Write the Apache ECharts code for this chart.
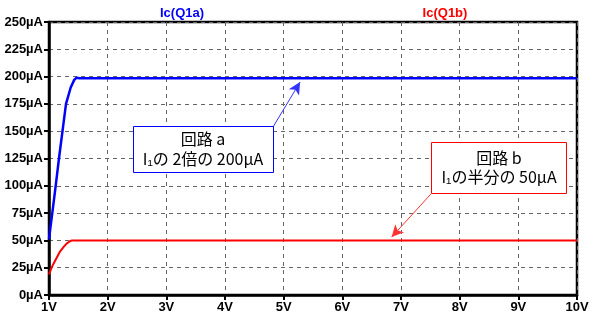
<!DOCTYPE html>
<html><head><meta charset="utf-8">
<script src="https://cdn.jsdelivr.net/npm/echarts@6/dist/echarts.min.js"></script>
<style>html,body{margin:0;padding:0;background:#fff}#c{width:595px;height:324px}</style>
</head><body><div id="c"></div>
<script>
// Data
const voltsA = [1, 1.02, 1.056, 1.114, 1.17, 1.23, 1.29, 1.37, 1.43, 1.47, 1.52, 10];
const currentA = [51, 60, 75, 100, 125, 150, 175, 190, 197, 199, 198.5, 198.5];
const voltsB = [1, 1.03, 1.07, 1.12, 1.19, 1.25, 1.30, 1.35, 1.39, 10];
const currentB = [19, 23, 28, 33, 40, 44, 47, 49, 50, 50];
const seriesNames = ['Ic(Q1a)', 'Ic(Q1b)'];
const noteA = ['回路 a', 'I₁の 2倍の 200µA'];
const noteB = ['回路 b', 'I₁の半分の 50µA'];
// arrow endpoints in data units [V, µA]
const arrowA = [[4.82, 154], [5.28, 195]];
const arrowB = [[7.51, 92.5], [6.84, 53]];

const chart = echarts.init(document.getElementById('c'));
const lbl = {color: '#000', fontWeight: 'bold', fontSize: 13, fontFamily: 'Liberation Sans, Arial, sans-serif'};
const pairs = (xs, ys) => xs.map((x, i) => [x, ys[i]]);
const boxText = {fontFamily: 'Noto Sans CJK JP, sans-serif', fontSize: 16, fill: '#000', align: 'center', verticalAlign: 'top'};
const titleText = {fontFamily: 'Liberation Sans, Arial, sans-serif', fontSize: 13, fontWeight: 'bold', align: 'center', verticalAlign: 'middle'};
chart.setOption({
  animation: false,
  grid: {left: 49, top: 22, width: 528, height: 273, show: true, borderColor: '#000', borderWidth: 2.5, backgroundColor: 'transparent'},
  xAxis: {
    type: 'value', min: 1, max: 10, interval: 1,
    axisLine: {show: true, lineStyle: {color: '#000', width: 2.5}},
    axisTick: {show: true, length: 5, lineStyle: {color: '#000', width: 2}},
    axisLabel: Object.assign({formatter: v => v + 'V', margin: 6, showMaxLabel: true, showMinLabel: true}, lbl),
    splitLine: {show: true, lineStyle: {color: '#666', type: [4, 4], width: 1}}
  },
  yAxis: {
    type: 'value', min: 0, max: 250, interval: 25,
    axisLine: {show: true, lineStyle: {color: '#000', width: 2.5}},
    axisTick: {show: true, length: 5, lineStyle: {color: '#000', width: 2}},
    axisLabel: Object.assign({formatter: v => v + 'µA', margin: 6}, lbl),
    splitLine: {show: true, lineStyle: {color: '#666', type: [4, 4], width: 1}}
  },
  series: [
    {name: seriesNames[0], type: 'line', data: pairs(voltsA, currentA), showSymbol: false, lineStyle: {color: '#0000ff', width: 2.5}, itemStyle: {color: '#0000ff'},
     markLine: {silent: true, symbol: ['none', 'arrow'], symbolSize: [9, 12], label: {show: false}, lineStyle: {color: '#3333ff', width: 1, type: 'solid'},
       data: [[{coord: arrowA[0]}, {coord: arrowA[1]}]]}},
    {name: seriesNames[1], type: 'line', data: pairs(voltsB, currentB), showSymbol: false, lineStyle: {color: '#ff0000', width: 2}, itemStyle: {color: '#ff0000'},
     markLine: {silent: true, symbol: ['none', 'arrow'], symbolSize: [9, 12], label: {show: false}, lineStyle: {color: '#ff3333', width: 1, type: 'solid'},
       data: [[{coord: arrowB[0]}, {coord: arrowB[1]}]]}}
  ],
  graphic: [
    {type: 'text', x: 182, y: 13, style: Object.assign({text: seriesNames[0], fill: '#0000ff'}, titleText)},
    {type: 'text', x: 445, y: 13, style: Object.assign({text: seriesNames[1], fill: '#ff0000'}, titleText)},
    {type: 'rect', shape: {x: 133.5, y: 126.5, width: 140, height: 46}, style: {fill: '#fff', stroke: '#0000ff', lineWidth: 1}, z: 100},
    {type: 'text', x: 203, y: 129, style: Object.assign({text: noteA.join('\n'), lineHeight: 20}, boxText), z: 101},
    {type: 'rect', shape: {x: 431.5, y: 142.5, width: 135, height: 51}, style: {fill: '#fff', stroke: '#ff0000', lineWidth: 1}, z: 100},
    {type: 'text', x: 499, y: 148.5, style: Object.assign({text: noteB.join('\n'), lineHeight: 19}, boxText), z: 101}
  ]
});
</script></body></html>
